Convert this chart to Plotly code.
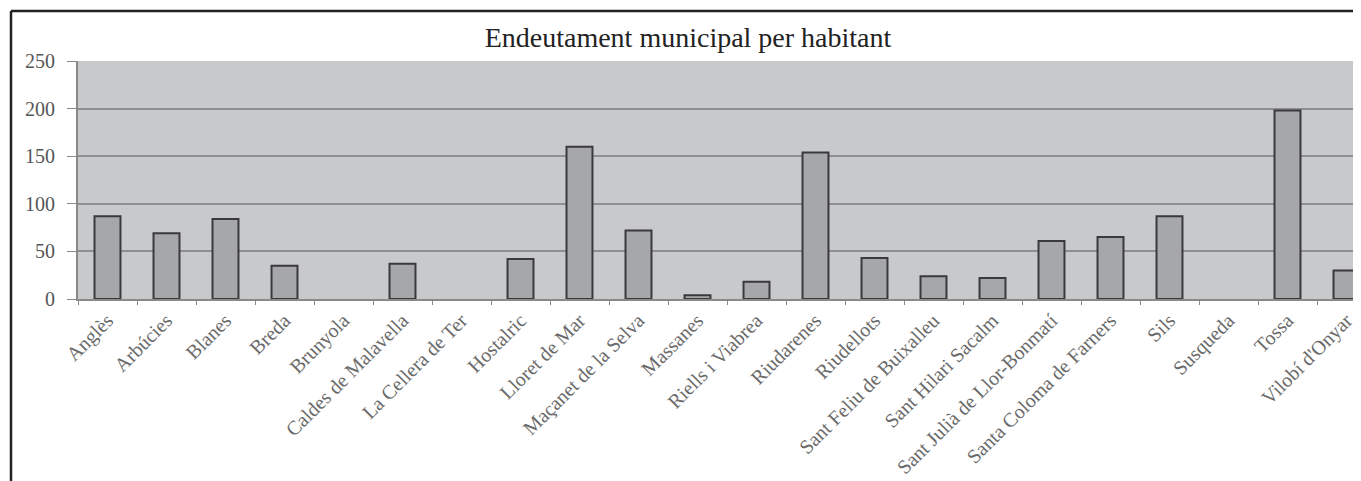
import plotly.graph_objects as go

municipis = ["Anglès", "Arbúcies", "Blanes", "Breda", "Brunyola", "Caldes de Malavella",
             "La Cellera de Ter", "Hostalric", "Lloret de Mar", "Maçanet de la Selva",
             "Massanes", "Riells i Viabrea", "Riudarenes", "Riudellots",
             "Sant Feliu de Buixalleu", "Sant Hilari Sacalm", "Sant Julià de Llor-Bonmatí",
             "Santa Coloma de Farners", "Sils", "Susqueda", "Tossa", "Vilobí d'Onyar"]
deute = [87, 69, 84, 35, 0, 37, 0, 42, 160, 72, 4, 18, 154, 43, 24, 22, 61, 65, 87, 0, 198, 30]
y_ticks = [0, 50, 100, 150, 200, 250]

serif = "Liberation Serif"

W, H = 1353, 473
L, T, PH = 70, 53, 238
PW = W - L

fig = go.Figure(go.Bar(
    x=municipis, y=deute,
    marker=dict(color="#a6a7aa",
                line=dict(color="#3a3a3a", width=[2 if v > 0 else 0 for v in deute])),
    width=0.44,
))

fx = -67 / PW
fy = 1 + 50 / PH

fig.update_layout(
    width=W, height=H,
    margin=dict(l=L, r=0, t=T, b=H - T - PH, autoexpand=False),
    paper_bgcolor="white",
    plot_bgcolor="#c8c9cb",
    showlegend=False,
    title=dict(text="Endeutament municipal per habitant", x=680 / W, xanchor="center",
               y=1 - 29 / H, yanchor="middle",
               font=dict(family=serif, size=28, color="#222")),
    font=dict(family=serif),
    shapes=[
        dict(type="line", xref="paper", yref="paper", x0=fx, x1=1.01, y0=fy, y1=fy,
             line=dict(color="#222", width=2.5)),
        dict(type="line", xref="paper", yref="paper", x0=fx, x1=fx, y0=fy, y1=-200 / PH,
             line=dict(color="#222", width=2.5)),
    ],
)

fig.update_xaxes(
    type="category",
    range=[-0.5, -0.5 + PW / 59],
    tickangle=-45,
    tickfont=dict(family=serif, size=20, color="#6a6a6a"),
    showline=True, linecolor="#8a8a8a", linewidth=2,
    ticks="outside", tickson="boundaries", ticklen=4, tickcolor="#8a8a8a",
    showgrid=False,
)
fig.update_yaxes(
    range=[0, 250],
    tickvals=y_ticks,
    tickfont=dict(family=serif, size=20, color="#555"),
    showline=True, linecolor="#8a8a8a", linewidth=2,
    ticks="outside", ticklen=9, tickcolor="#8a8a8a",
    ticklabelstandoff=8,
    showgrid=True, gridcolor="#8e8f91", gridwidth=1.5,
    zeroline=False,
)

fig.write_html("out.html")
